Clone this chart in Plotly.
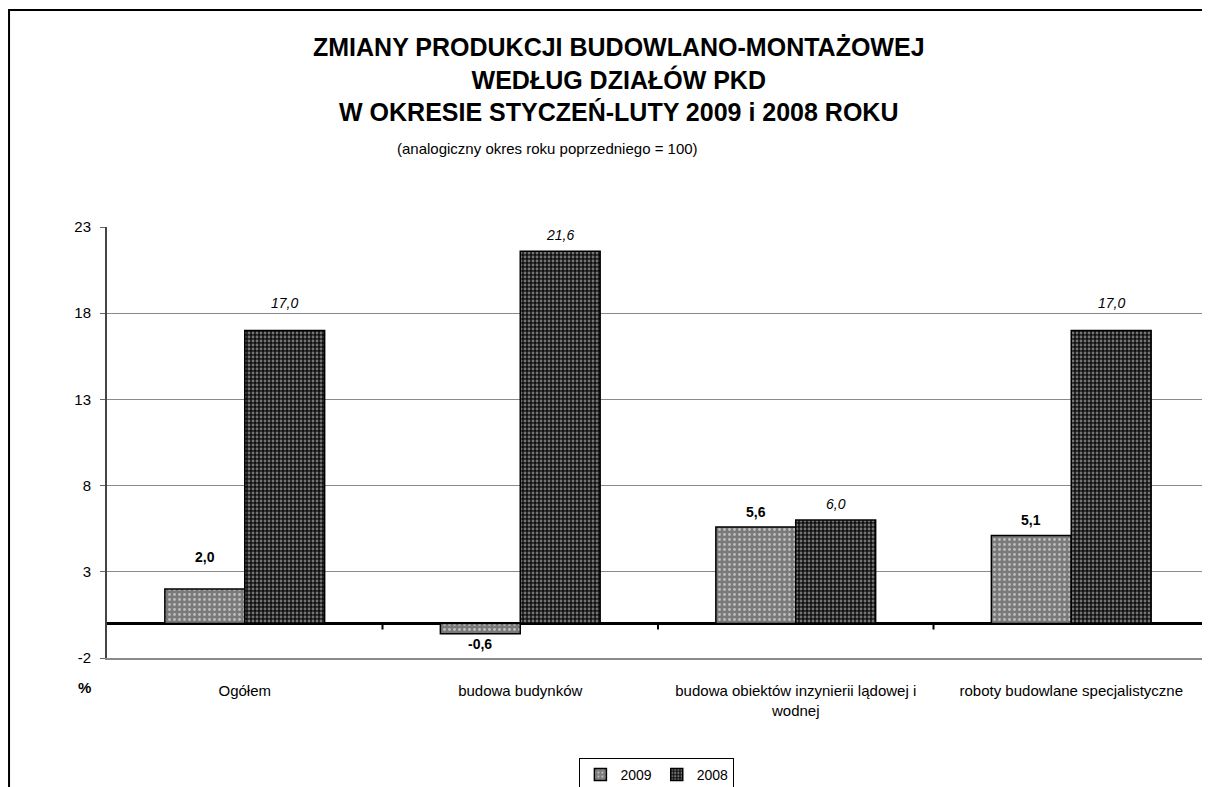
import plotly.graph_objects as go

categories = ["Ogółem", "budowa budynków", "budowa obiektów inzynierii lądowej i<br>wodnej",
              "roboty budowlane specjalistyczne"]
values_2009 = [2.0, -0.6, 5.6, 5.1]
values_2008 = [17.0, 21.6, 6.0, 17.0]
y_ticks = [-2, 3, 8, 13, 18, 23]

# label offsets (px) from the bar end, as placed in the original chart
shift_2009 = [32, -10, 15, 16]
shift_2008 = [27, 16, 16, 27]

FONT = "Liberation Sans, Arial, sans-serif"

fig = go.Figure()
fig.add_trace(go.Bar(
    x=categories, y=values_2009, name="2009",
    marker=dict(color="#7a7a7a", line=dict(color="black", width=1.5),
                pattern=dict(shape=".", fgcolor="white", size=5, solidity=0.25)),
))
fig.add_trace(go.Bar(
    x=categories, y=values_2008, name="2008",
    marker=dict(color="#111111", line=dict(color="black", width=1.5),
                pattern=dict(shape=".", fgcolor="#d8d8d8", size=4, solidity=0.4)),
))

# data labels: 2009 bold, 2008 italic
for cat, v, s in zip(categories, values_2009, shift_2009):
    fig.add_annotation(x=cat, y=v, text=f"<b>{v:.1f}</b>".replace(".", ","), showarrow=False,
                       xshift=-40, yshift=s, yanchor="middle",
                       font=dict(size=14, family=FONT, color="black"))
for cat, v, s in zip(categories, values_2008, shift_2008):
    fig.add_annotation(x=cat, y=v, text=f"<i>{v:.1f}</i>".replace(".", ","), showarrow=False,
                       xshift=40, yshift=s, yanchor="middle",
                       font=dict(size=14, family=FONT, color="black"))

# small category tick marks on the zero line
for i in range(1, len(categories)):
    fig.add_shape(type="line", xref="x", yref="y", x0=i - 0.5, x1=i - 0.5, y0=0, y1=-0.35,
                  line=dict(color="black", width=2))

# outer chart border
fig.add_shape(type="rect", xref="paper", yref="paper", x0=-0.0889, x1=1.2, y0=-1, y1=1.5035,
              line=dict(color="black", width=2), layer="below")

fig.add_annotation(text="<b>ZMIANY PRODUKCJI BUDOWLANO-MONTAŻOWEJ<br>WEDŁUG DZIAŁÓW PKD<br>"
                        "W OKRESIE STYCZEŃ-LUTY 2009 i 2008 ROKU</b>",
                   xref="paper", yref="paper", x=0.4646, y=1.342, xanchor="center", yanchor="middle",
                   showarrow=False, font=dict(size=25, family=FONT, color="black"))
fig.add_annotation(text="(analogiczny okres roku poprzedniego = 100)",
                   xref="paper", yref="paper", x=0.3993, y=1.183, xanchor="center", yanchor="middle",
                   showarrow=False, font=dict(size=15, family=FONT, color="black"))
fig.add_annotation(text="<b>%</b>", xref="paper", yref="paper", x=-0.0127, y=-0.0673,
                   xanchor="right", yanchor="middle", showarrow=False,
                   font=dict(size=15, family=FONT, color="black"))

fig.update_layout(
    width=1202, height=779,
    margin=dict(l=99, r=1, t=219, b=129, autoexpand=False),
    paper_bgcolor="white", plot_bgcolor="white",
    font=dict(family=FONT, color="black"),
    barmode="group", bargap=0.42, bargroupgap=0,
    showlegend=True,
    legend=dict(orientation="h", x=0.499, y=-0.232, xanchor="center", yanchor="top",
                bordercolor="black", borderwidth=1, font=dict(size=14),
                itemwidth=30, tracegroupgap=0),
    xaxis=dict(tickfont=dict(size=15), ticks="", showgrid=False,
               showline=True, linecolor="#8a8a8a", linewidth=2,
               ticklabelstandoff=18),
    yaxis=dict(range=[-2, 23], tickvals=y_ticks, ticktext=[str(v) for v in y_ticks],
               tickfont=dict(size=15), ticklabelstandoff=6,
               showgrid=True, gridcolor="#8a8a8a", gridwidth=1,
               zeroline=True, zerolinecolor="black", zerolinewidth=3,
               showline=True, linecolor="#444", linewidth=2,
               ticks="outside", ticklen=5, tickcolor="#666"),
)

fig.write_html("out.html")
